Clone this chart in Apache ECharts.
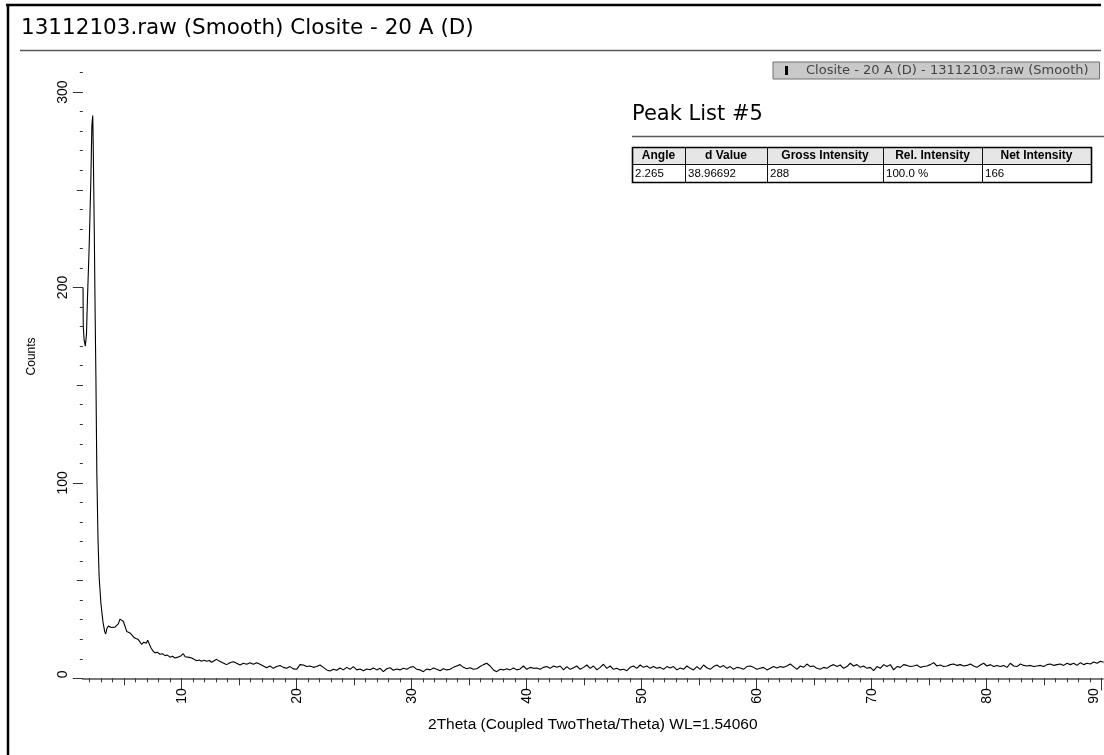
<!DOCTYPE html>
<html><head><meta charset="utf-8">
<script src="https://cdn.jsdelivr.net/npm/echarts@6/dist/echarts.min.js"></script>
<style>html,body{margin:0;padding:0;background:#fff}#chart{width:1104px;height:755px}</style>
</head><body><div id="chart"></div>
<script>
const chartTitle = '13112103.raw (Smooth) Closite - 20 A (D)';
const seriesName = 'Closite - 20 A (D) - 13112103.raw (Smooth)';
const xAxisName = '2Theta (Coupled TwoTheta/Theta) WL=1.54060';
const yAxisName = 'Counts';
const xMajorTicks = [10, 20, 30, 40, 50, 60, 70, 80, 90];
const xMidTicks = [5, 15, 25, 35, 45, 55, 65, 75, 85];
const yMajorTicks = [0, 100, 200, 300];
const yMidTicks = [50, 150, 250];
const peakTitle = 'Peak List #5';
const peakHeaders = ['Angle', 'd Value', 'Gross Intensity', 'Rel. Intensity', 'Net Intensity'];
const peakRow = ['2.265', '38.96692', '288', '100.0 %', '166'];

// low-angle region read point by point: [2Theta, Counts]
const lowAngle = [
  [1.42,200],[1.44,180],[1.52,173],[1.62,170],[1.72,176],[1.81,195],[1.96,222],[2.10,255],[2.19,283],[2.265,288],
  [2.31,271],[2.40,228],[2.48,183],[2.54,154],[2.62,105],[2.72,72],[2.82,52],[2.98,38],[3.15,29],[3.30,24],
  [3.39,22.7],[3.50,25.5],[3.62,26.7],[3.77,27.5],[3.90,26.0],[4.05,25.5],[4.20,26.2],[4.35,25.6],[4.50,28.0],[4.63,30.3],
  [4.78,30.6],[4.92,29.2],[5.08,26.5],[5.22,24.0],[5.36,24.6],[5.50,23.2],[5.70,22.0],[5.88,20.7],[6.05,21.2],[6.23,19.8],
  [6.38,19.0],[6.52,17.3],[6.67,18.4],[6.81,18.9],[6.92,18.0],[7.04,19.5],[7.18,17.6],[7.33,15.6],[7.50,14.0],[7.68,13.0],
  [7.90,13.3],[8.11,12.3],[8.33,12.6],[8.55,11.6],[8.76,11.9],[8.98,10.8],[9.20,11.3],[9.42,10.4],[9.60,10.7],[9.77,10.8],
  [9.95,11.6],[10.14,12.6],[10.30,11.0],[10.43,10.0],[10.65,10.7],[10.87,10.4],[11.10,9.6],[11.30,9.0],[11.52,9.4],[11.74,8.7],
  [11.95,9.3],[12.17,8.7],[12.40,9.1],[12.60,8.2],[12.82,9.0],[13.04,9.7],[13.26,8.8],[13.48,8.2],[13.70,7.6],[13.90,7.0],
  [14.05,7.6]
];

// regular scan part: first angle and step of the scan, then the counts
const scanStart = 14.2;
const scanStep = 0.29;
const scanCounts = [
  8.0,8.5,7.7,6.8,7.7,7.2,8.0,7.2,8.0,7.2,
  6.3,5.4,6.3,5.1,6.0,6.6,5.6,5.1,6.0,4.8,
  4.6,7.0,6.8,6.0,6.3,5.6,6.0,6.8,5.6,4.3,
  3.7,4.6,4.1,5.3,4.3,5.6,4.6,6.0,4.3,4.8,
  3.9,4.8,4.4,5.3,4.3,5.1,3.4,4.9,5.4,4.1,
  4.8,4.3,5.1,4.6,5.6,6.0,4.6,4.3,3.4,4.8,
  4.3,5.3,4.6,3.9,4.9,4.3,4.6,5.6,6.3,7.0,
  5.6,4.9,5.4,4.6,4.9,6.0,7.0,7.7,6.3,4.3,
  3.4,4.6,4.3,4.9,4.3,5.3,4.3,4.8,
  6.3,4.6,5.6,5.1,5.3,4.6,5.6,
  6.0,5.1,6.3,5.6,6.3,4.3,6.0,4.6,5.4,6.3,
  4.6,5.6,6.8,5.1,6.3,4.3,5.6,7.2,5.1,6.3,
  4.6,5.1,4.3,4.6,3.9,5.6,6.3,5.1,6.8,5.6,
  6.3,5.1,6.0,5.1,5.6,4.6,6.0,5.3,6.0,4.3,
  5.3,4.6,6.3,5.1,4.3,6.0,4.6,6.8,5.4,4.6,
  6.0,6.8,5.6,6.5,5.1,6.0,4.6,5.6,5.3,4.6,
  6.0,6.3,5.6,4.6,5.1,5.6,4.3,5.1,6.0,5.3,
  6.0,5.6,6.3,7.3,6.0,4.6,6.3,5.6,
  7.3,6.0,6.3,5.1,4.6,5.6,5.1,6.3,
  7.0,6.0,6.8,5.1,6.0,7.7,6.3,7.0,5.6,6.3,
  5.1,5.6,3.9,6.0,5.1,7.0,6.0,7.0,4.3,6.0,
  5.6,7.0,6.6,6.0,6.3,6.8,5.6,6.0,6.3,7.0,
  8.0,6.3,6.8,6.0,6.3,7.0,7.3,6.6,7.0,6.3,
  6.6,7.3,6.3,5.6,6.8,7.7,6.3,7.0,6.0,6.6,
  6.0,6.6,5.6,7.7,6.3,6.0,7.3,6.6,6.3,6.6,
  6.0,6.3,6.6,6.0,7.0,7.3,6.6,7.0,7.3,6.6,
  7.7,7.0,7.7,6.6,8.0,7.0,7.7,7.3,8.3,7.7,
  8.7,8.2
];

const xMin = 1.4, xMax = 90.1, yMin = 0, yMax = 312;

const seriesData = lowAngle.concat(scanCounts.map((c, i) => [+(scanStart + i * scanStep).toFixed(3), c]));

const xMinorTicks = [];
for (let v = 2; v <= 90; v++) xMinorTicks.push(v);
const yMinorTicks = [];
for (let v = 10; v <= 310; v += 10) yMinorTicks.push(v);

const SANS = 'Liberation Sans, Arial, sans-serif';
const WIDE = 'DejaVu Sans, sans-serif';

const chart = echarts.init(document.getElementById('chart'), null, { renderer: 'canvas' });

const gridBox = { left: 82.8, top: 68.6, width: 1020, height: 609.7 };

function xAxisBase(extra) {
  return Object.assign({
    type: 'value', gridIndex: 0, position: 'bottom', min: xMin, max: xMax,
    axisLine: { show: false, onZero: false }, splitLine: { show: false },
    axisLabel: { show: false }
  }, extra);
}
function yAxisBase(extra) {
  return Object.assign({
    type: 'value', gridIndex: 0, position: 'left', min: yMin, max: yMax,
    axisLine: { show: false, onZero: false }, splitLine: { show: false },
    axisLabel: { show: false }
  }, extra);
}

// table layout
const colX = [632, 685, 767, 883, 982, 1091];
const rowY = [147, 164, 182];
const tableEls = [];
tableEls.push({ type: 'rect', shape: { x: colX[0], y: rowY[0], width: colX[5] - colX[0], height: rowY[1] - rowY[0] }, style: { fill: '#e6e6e6' } });
for (let i = 0; i < 5; i++) {
  for (let r = 0; r < 2; r++) {
    tableEls.push({ type: 'rect', shape: { x: colX[i] + 0.5, y: rowY[r] + 0.5, width: colX[i + 1] - colX[i], height: rowY[r + 1] - rowY[r] },
      style: { fill: null, stroke: '#111', lineWidth: 1 } });
  }
  tableEls.push({ type: 'text', x: (colX[i] + colX[i + 1]) / 2, y: (rowY[0] + rowY[1]) / 2 + 0.5,
    style: { text: peakHeaders[i], font: 'bold 12px ' + SANS, fill: '#000', align: 'center', verticalAlign: 'middle' } });
  tableEls.push({ type: 'text', x: colX[i] + 3, y: (rowY[1] + rowY[2]) / 2 + 0.5,
    style: { text: peakRow[i], font: '11.5px ' + SANS, fill: '#000', align: 'left', verticalAlign: 'middle' } });
}
tableEls.push({ type: 'rect', shape: { x: colX[0] + 0.5, y: rowY[0] + 0.5, width: colX[5] - colX[0], height: rowY[2] - rowY[0] },
  style: { fill: null, stroke: '#000', lineWidth: 1.6 } });

const option = {
  animation: false,
  backgroundColor: '#fff',
  title: {
    text: chartTitle, left: 21, top: 17, padding: 0,
    textStyle: { fontFamily: WIDE, fontSize: 21.5, fontWeight: 'normal', color: '#000' }
  },
  legend: {
    data: [seriesName], left: 773, top: 62, icon: 'rect', itemWidth: 3, itemHeight: 9,
    backgroundColor: '#c9c9c9', borderColor: '#6e6e6e', borderWidth: 1, borderRadius: 0,
    padding: [2, 11, 2, 12], selectedMode: false,
    textStyle: { fontFamily: WIDE, fontSize: 13, color: '#444', padding: [0, 0, 0, 13] }
  },
  grid: gridBox,
  xAxis: [
    xAxisBase({
      name: xAxisName, nameLocation: 'middle', nameGap: 38,
      nameTextStyle: { fontFamily: SANS, fontSize: 15.5, color: '#000' },
      axisLine: { show: true, onZero: false, lineStyle: { color: '#7a7a7a', width: 2 } },
      axisTick: { show: true, customValues: xMajorTicks, length: 12, lineStyle: { color: '#333', width: 1 } },
      axisLabel: {
        show: true, customValues: xMajorTicks, rotate: 90, margin: 10,
        fontFamily: SANS, fontSize: 14, color: '#000',
        formatter: v => (v === 90 ? '{e|90}' : String(v)),
        rich: { e: { fontFamily: SANS, fontSize: 14, color: '#000', padding: [0, 0, 16, 0] } }
      }
    }),
    xAxisBase({ axisTick: { show: true, customValues: xMinorTicks, length: 4, lineStyle: { color: '#333', width: 1 } } }),
    xAxisBase({ axisTick: { show: true, customValues: xMidTicks, length: 7, lineStyle: { color: '#333', width: 1 } } })
  ],
  yAxis: [
    yAxisBase({
      name: yAxisName, nameLocation: 'middle', nameGap: 45,
      nameTextStyle: { fontFamily: SANS, fontSize: 12, color: '#000', padding: [0, 0, 0, 34] },
      axisTick: { show: true, customValues: yMajorTicks, length: 10, lineStyle: { color: '#333', width: 1 } },
      axisLabel: {
        show: true, customValues: yMajorTicks, rotate: 90, margin: 13, alignMinLabel: 'left',
        fontFamily: SANS, fontSize: 14, color: '#000'
      }
    }),
    yAxisBase({ axisTick: { show: true, customValues: yMinorTicks, length: 3, lineStyle: { color: '#333', width: 1 } } }),
    yAxisBase({ axisTick: { show: true, customValues: yMidTicks, length: 6, lineStyle: { color: '#333', width: 1 } } })
  ],
  series: [{
    name: seriesName, type: 'line', xAxisIndex: 0, yAxisIndex: 0,
    data: seriesData, showSymbol: false, symbol: 'none', clip: true,
    lineStyle: { color: '#000', width: 1.1 }, itemStyle: { color: '#000' }
  }],
  graphic: [
    { type: 'line', shape: { x1: 6, y1: 5, x2: 1101, y2: 5 }, style: { stroke: '#000', lineWidth: 2.5 } },
    { type: 'line', shape: { x1: 8, y1: 4, x2: 8, y2: 755 }, style: { stroke: '#000', lineWidth: 2.5 } },
    { type: 'line', shape: { x1: 20, y1: 50.5, x2: 1101, y2: 50.5 }, style: { stroke: '#5a5a5a', lineWidth: 1.5 } },
    { type: 'text', x: 632, y: 115, style: { text: peakTitle, font: '21px ' + WIDE, fill: '#000', align: 'left', verticalAlign: 'middle' } },
    { type: 'line', shape: { x1: 632, y1: 136.5, x2: 1104, y2: 136.5 }, style: { stroke: '#5a5a5a', lineWidth: 1.5 } },
    { type: 'group', children: tableEls }
  ]
};
chart.setOption(option);
</script>
</body></html>
